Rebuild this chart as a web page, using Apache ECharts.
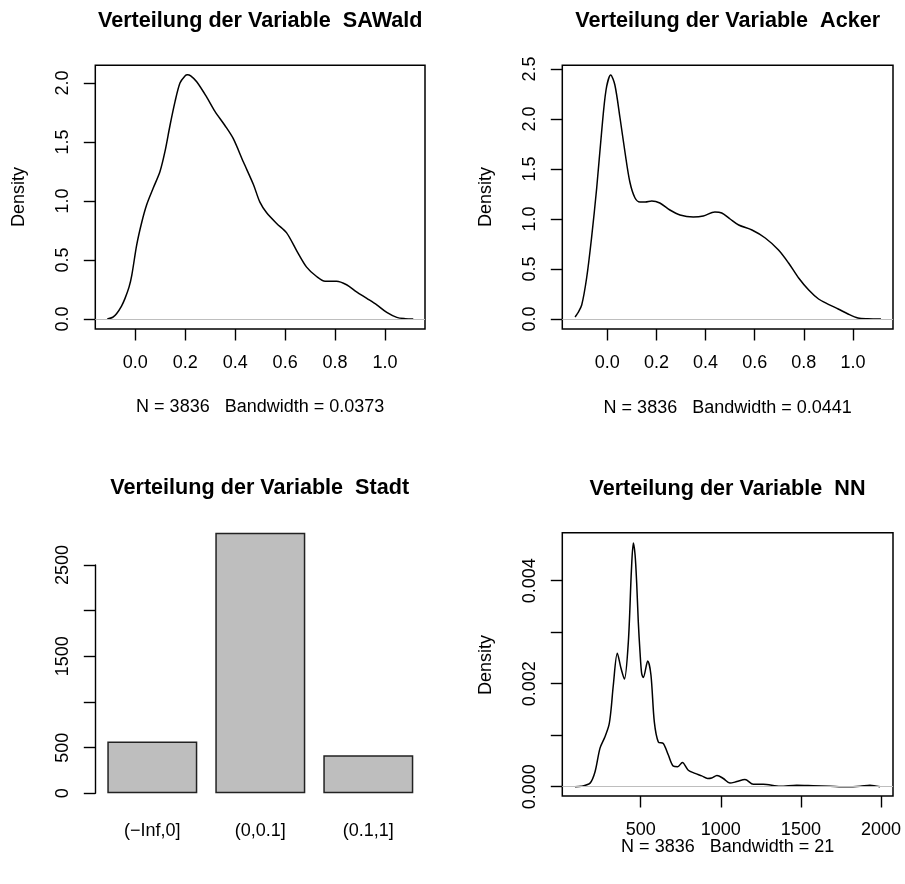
<!DOCTYPE html>
<html>
<head>
<meta charset="utf-8">
<script src="https://cdn.jsdelivr.net/npm/echarts@6/dist/echarts.min.js"></script>
<style>
  html, body { margin: 0; padding: 0; background: #fff; }
  #chart { width: 905px; height: 884px; }
</style>
</head>
<body>
<div id="chart"></div>
<script>
// Dichtekurve SAWald
const sawaldX = [-0.112, -0.09, -0.075, -0.055, -0.041, -0.025, -0.014, 0.006, 0.026, 0.046, 0.072, 0.099, 0.119, 0.139, 0.159, 0.179, 0.199, 0.209, 0.222, 0.246, 0.286, 0.319, 0.359, 0.392, 0.433, 0.473, 0.499, 0.526, 0.566, 0.606, 0.646, 0.686, 0.726, 0.760, 0.806, 0.846, 0.886, 0.927, 0.967, 1.007, 1.047, 1.08, 1.113];
const sawaldY = [0, 0.015, 0.045, 0.11, 0.175, 0.27, 0.37, 0.63, 0.82, 0.97, 1.11, 1.25, 1.42, 1.64, 1.84, 2.0, 2.06, 2.07, 2.06, 2.01, 1.88, 1.76, 1.64, 1.53, 1.33, 1.14, 0.99, 0.90, 0.81, 0.73, 0.58, 0.44, 0.36, 0.32, 0.32, 0.29, 0.23, 0.175, 0.12, 0.056, 0.014, 0.003, 0];

// Dichtekurve Acker
const ackerX = [-0.131, -0.12, -0.104, -0.084, -0.064, -0.043, -0.023, -0.005, 0.014, 0.031, 0.052, 0.072, 0.092, 0.113, 0.133, 0.155, 0.181, 0.214, 0.255, 0.296, 0.35, 0.391, 0.438, 0.466, 0.5, 0.535, 0.589, 0.643, 0.697, 0.738, 0.779, 0.82, 0.86, 0.90, 0.94, 0.98, 1.02, 1.06, 1.114];
const ackerY = [0.02, 0.06, 0.14, 0.41, 0.81, 1.31, 1.87, 2.29, 2.44, 2.34, 2.01, 1.67, 1.37, 1.21, 1.17, 1.17, 1.18, 1.16, 1.09, 1.04, 1.02, 1.03, 1.07, 1.06, 1.0, 0.94, 0.89, 0.81, 0.69, 0.56, 0.41, 0.29, 0.20, 0.147, 0.10, 0.05, 0.01, 0.002, 0];

// Häufigkeiten Stadt
const stadtCategories = ["(\u2212Inf,0]", "(0,0.1]", "(0.1,1]"];
const stadtCounts = [567, 2853, 416];

// Dichtekurve NN
const nnX = [90, 130, 184, 215, 246, 277, 302, 315, 329, 354, 377, 398, 423, 442, 454, 465, 475, 485, 496, 506, 516, 544, 564, 585, 610, 641, 672, 704, 731, 760, 797, 839, 881, 918, 943, 976, 1016, 1057, 1100, 1151, 1203, 1265, 1370, 1474, 1577, 1682, 1786, 1870, 1931, 1994];
const nnY = [0, 0.00001, 0.00007, 0.00029, 0.00075, 0.00097, 0.0012, 0.0015, 0.00197, 0.00259, 0.0023, 0.00209, 0.00282, 0.0042, 0.00473, 0.0045, 0.00395, 0.0032, 0.0026, 0.0022, 0.00212, 0.00244, 0.00217, 0.00126, 0.00087, 0.00084, 0.00062, 0.0004, 0.00039, 0.00047, 0.00032, 0.00026, 0.00021, 0.00016, 0.00017, 0.00022, 0.00016, 0.00007, 0.0001, 0.00014, 0.00005, 0.00005, 0.00001, 0.00003, 0.00002, 0.00001, 0, 0.00001, 0.00003, 0];

// Achsenbeschriftung
const unitTicks = [0, 0.2, 0.4, 0.6, 0.8, 1.0];
const sawaldYTicks = [0, 0.5, 1.0, 1.5, 2.0];
const ackerYTicks = [0, 0.5, 1.0, 1.5, 2.0, 2.5];
const stadtYTicks = [0, 500, 1000, 1500, 2000, 2500];
const stadtYLabels = [0, 500, 1500, 2500];
const nnXTicks = [500, 1000, 1500, 2000];
const nnYTicks = [0, 0.001, 0.002, 0.003, 0.004];
const nnYLabels = [0, 0.002, 0.004];

const FONT = "'Liberation Sans', Arial, Helvetica, sans-serif";
const zip = (xs, ys) => xs.map((x, i) => [x, ys[i]]);

const el = document.getElementById("chart");
const chart = echarts.init(el, null, { renderer: "canvas" });

const tickStyle = { color: "#000", width: 1.4 };

function valueAxis(gridIndex, min, max, ticks, labels, digits, isY, margin) {
  return {
    type: "value",
    gridIndex,
    min,
    max,
    axisLine: { show: false, onZero: false },
    axisTick: { show: true, inside: false, length: 11.5, lineStyle: tickStyle, customValues: ticks },
    axisLabel: {
      customValues: labels,
      formatter: (v) => Number(v).toFixed(digits),
      margin,
      rotate: isY ? 90 : 0,
      fontSize: 18,
      color: "#000",
      fontFamily: FONT,
    },
    splitLine: { show: false },
  };
}

function densitySeries(idx, data) {
  return {
    type: "line",
    xAxisIndex: idx,
    yAxisIndex: idx,
    data,
    showSymbol: false,
    smooth: 0.3,
    lineStyle: { color: "#000", width: 1.5 },
    markLine: {
      silent: true,
      symbol: "none",
      label: { show: false },
      lineStyle: { color: "#bebebe", type: "solid", width: 1.2 },
      data: [{ yAxis: 0 }],
    },
    z: 3,
  };
}

function text(x, y, str, opts) {
  return {
    type: "text",
    x,
    y,
    rotation: opts.rotate ? Math.PI / 2 : 0,
    style: {
      text: str,
      fill: "#000",
      font: (opts.bold ? "bold " : "") + opts.size + "px " + FONT,
      textAlign: "center",
      textVerticalAlign: "middle",
    },
  };
}

const boxGrid = { show: true, borderColor: "#000", borderWidth: 1.5, backgroundColor: "transparent", containLabel: false, outerBoundsMode: "none" };

chart.setOption({
  animation: false,
  backgroundColor: "#fff",
  grid: [
    Object.assign({ left: 95.3, top: 65.3, width: 329.7, height: 263.7 }, boxGrid),
    Object.assign({ left: 562.3, top: 65.3, width: 330.7, height: 263.7 }, boxGrid),
    { left: 98.3, top: 520, width: 324, height: 290, show: false, containLabel: false, outerBoundsMode: "none" },
    { left: 95.3, top: 565, width: 330, height: 228.3, show: false, containLabel: false, outerBoundsMode: "none" },
    Object.assign({ left: 562.3, top: 532.7, width: 330.7, height: 263.3 }, boxGrid),
  ],
  xAxis: [
    valueAxis(0, -0.160, 1.160, unitTicks, unitTicks, 1, false, 25),
    valueAxis(1, -0.183, 1.163, unitTicks, unitTicks, 1, false, 25),
    {
      type: "category",
      gridIndex: 2,
      data: stadtCategories,
      boundaryGap: true,
      axisLine: { show: false, onZero: false },
      axisTick: { show: false },
      axisLabel: { margin: 12, fontSize: 18, color: "#000", fontFamily: FONT },
    },
    { type: "value", gridIndex: 3, show: false, min: 0, max: 1 },
    valueAxis(4, 10.6, 2075, nnXTicks, nnXTicks, 0, false, 25),
  ],
  yAxis: [
    valueAxis(0, -0.0847, 2.150, sawaldYTicks, sawaldYTicks, 1, true, 23),
    valueAxis(1, -0.1, 2.537, ackerYTicks, ackerYTicks, 1, true, 23),
    { type: "value", gridIndex: 2, show: false, min: -182.9, max: 2992.4 },
    Object.assign(valueAxis(3, 0, 2500, stadtYTicks, stadtYLabels, 0, true, 23), {
      axisLine: { show: true, onZero: false, lineStyle: tickStyle },
    }),
    valueAxis(4, -0.00018, 0.004932, nnYTicks, nnYLabels, 3, true, 23),
  ],
  series: [
    densitySeries(0, zip(sawaldX, sawaldY)),
    densitySeries(1, zip(ackerX, ackerY)),
    {
      type: "bar",
      xAxisIndex: 2,
      yAxisIndex: 2,
      data: stadtCounts,
      barWidth: 90,
      itemStyle: { color: "#bebebe", borderColor: "#222", borderWidth: 1.5 },
      emphasis: { disabled: true },
    },
    densitySeries(4, zip(nnX, nnY)),
  ],
  graphic: [
    text(260.2, 21, "Verteilung der Variable  SAWald", { bold: true, size: 21.6 }),
    text(727.7, 21, "Verteilung der Variable  Acker", { bold: true, size: 21.6 }),
    text(259.7, 488, "Verteilung der Variable  Stadt", { bold: true, size: 21.6 }),
    text(727.5, 489, "Verteilung der Variable  NN", { bold: true, size: 21.6 }),
    text(260.2, 407, "N = 3836   Bandwidth = 0.0373", { size: 18 }),
    text(727.7, 408, "N = 3836   Bandwidth = 0.0441", { size: 18 }),
    text(727.7, 847, "N = 3836   Bandwidth = 21", { size: 18 }),
    text(18.8, 197, "Density", { size: 18, rotate: true }),
    text(486.5, 197, "Density", { size: 18, rotate: true }),
    text(486.5, 665, "Density", { size: 18, rotate: true }),
  ],
});

window.addEventListener("resize", () => chart.resize());
</script>
</body>
</html>
